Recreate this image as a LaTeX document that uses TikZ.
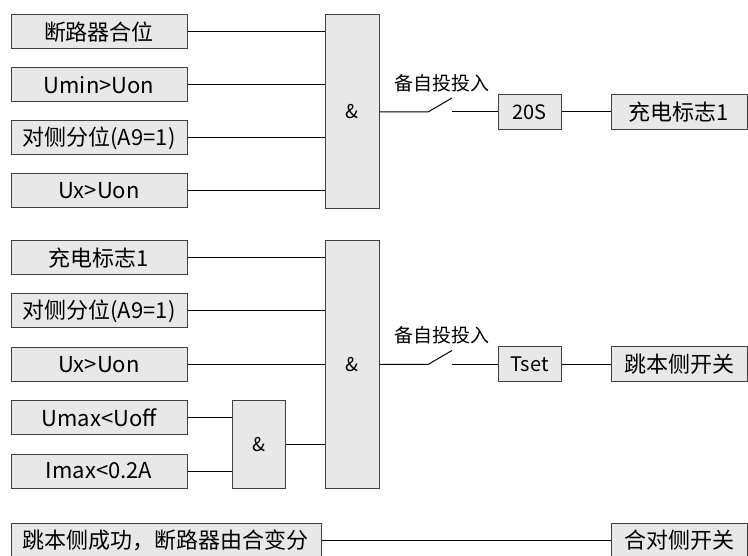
\documentclass[tikz,border=0pt]{standalone}
\usepackage{fontspec}
\setmainfont{Noto Sans CJK SC}
\usepackage{tikz}
\tikzset{inbox/.style={draw=black!75,fill=gray!18,minimum width=176pt,minimum height=34pt,inner sep=0pt,font=\fontsize{22}{26}\selectfont}}
\tikzset{gatebox/.style={draw=black!75,fill=gray!18,minimum width=54pt,inner sep=0pt,font=\fontsize{19}{23}\selectfont}}
\tikzset{timebox/.style={draw=black!75,fill=gray!18,minimum width=63pt,minimum height=35pt,inner sep=0pt,font=\fontsize{20}{24}\selectfont}}
\tikzset{outbox/.style={draw=black!75,fill=gray!18,minimum width=136pt,minimum height=35pt,inner sep=0pt,font=\fontsize{22}{26}\selectfont}}
\tikzset{swlabel/.style={inner sep=0pt,font=\fontsize{19}{23}\selectfont}}

\begin{document}
\begin{tikzpicture}[x=1pt,y=-1pt,line width=1pt]
            \useasboundingbox (0,0) rectangle (748,556);
            % setup the input nodes
            \foreach \name/\y/\txt in {a1/32/断路器合位,a2/85/Umin>Uon,a3/138/对侧分位(A9=1),a4/191/Ux>Uon,
                                       b1/258/充电标志1,b2/311/对侧分位(A9=1),b3/364.5/Ux>Uon,b4/418/Umax<Uoff,b5/471/Imax<0.2A}
            {
                \node[inbox] (\name) at (99,\y) {\txt};
            }
            % and gates
            \node[gatebox,minimum height=194pt] (g1) at (352,112) {\&};
            \node[gatebox,minimum height=247pt] (g2) at (352,364.5) {\&};
            \node[gatebox,minimum width=53pt,minimum height=87pt] (g3) at (258.5,444.5) {\&};
            % wire the inputs
            \foreach \mynode in {a1,a2,a3,a4}
            {
                \draw (\mynode.east) -- (\mynode.east -| g1.west);
            }
            \foreach \mynode in {b1,b2,b3}
            {
                \draw (\mynode.east) -- (\mynode.east -| g2.west);
            }
            \foreach \mynode in {b4,b5}
            {
                \draw (\mynode.east) -- (\mynode.east -| g3.west);
            }
            \draw (g3.east) -- (g3.east -| g2.west);
            % switches, timers and outputs
            \foreach \i/\g/\y/\tm/\out in {1/g1/112/20S/充电标志1,2/g2/364.5/Tset/跳本侧开关}
            {
                \coordinate (sw\i a) at (428,\y);
                \coordinate (sw\i b) at (452,\y);
                \node[swlabel] (lab\i) at (442,\y-29) {备自投投入};
                \node[timebox] (t\i) at (529.5,\y) {\tm};
                \node[outbox] (o\i) at (679,\y) {\out};
                \draw (\g.east) -- (sw\i a) -- ++(24,-14);
                \draw (sw\i b) -- (t\i.west);
                \draw (t\i.east) -- (o\i.west);
            }
            % last row
            \node[inbox,minimum width=310pt,minimum height=35pt] (c1) at (166,540.5) {跳本侧成功，断路器由合变分};
            \node[outbox] (o3) at (679,540.5) {合对侧开关};
            \draw (c1.east) -- (o3.west);
        \end{tikzpicture}
\end{document}
